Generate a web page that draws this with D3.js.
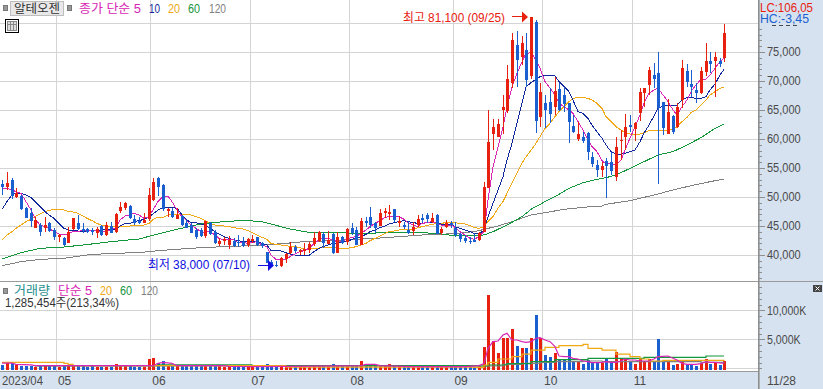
<!DOCTYPE html>
<html><head><meta charset="utf-8">
<script src="https://cdn.jsdelivr.net/npm/d3@7"></script>
<style>html,body{margin:0;padding:0;background:#fff;overflow:hidden}svg{display:block}text{font-family:"Liberation Sans","Noto Sans CJK KR",sans-serif}</style>
</head><body><svg id="c" width="823" height="389"></svg>
<script>
const opens=[52240,51670,52930,50060,50170,48160,47300,44660,45170,44710,
45580,44310,43160,42990,42130,44430,45460,44540,44430,44310,
43850,45000,43390,45060,44020,47590,48160,48450,46150,45920,
45580,46150,49480,53220,52130,47640,47640,46270,46720,45460,
45170,44310,44310,43280,45460,44020,41900,42470,41780,42410,
42300,42300,41730,42410,43050,42130,40460,38850,38280,38100,
39250,40290,41380,40580,40750,40860,41900,42410,43560,41900,
43680,40400,43050,42300,44600,44250,41720,45800,46500,45460,
45060,47190,47010,47930,45570,45170,44310,44190,45170,46320,
46900,45690,46950,43740,44880,45460,44600,43560,42930,42470,
42590,42590,44020,51500,60860,60400,65000,64880,69710,76210,
74080,75350,70860,80230,63740,66260,66440,65460,68620,67590,
66150,62300,60000,60400,60980,56840,55520,54650,56210,56090,
53510,59660,60400,62410,61780,64540,67990,69310,71030,71440,
66320,60860,63970,62010,66720,71780,69480,68450,67870,71610,
73450,73500,73450,73910];
const closes=[51780,52360,50170,50630,47870,46440,45920,46040,44020,45120,
44140,43050,43390,41730,44020,46320,44480,44080,43970,43910,
44430,43390,45170,43850,47010,48220,49020,46320,45580,45460,
46040,50350,52640,51670,47870,47870,46490,46900,45170,44710,
43850,43050,43280,45860,43620,42010,42470,42700,42590,41550,
42010,41550,42700,42760,41730,41550,38680,38300,38100,39430,
40170,41440,40750,40810,41030,41900,42870,43970,42010,42530,
40290,43100,42010,44480,43740,41780,45800,45750,45170,44710,
47240,47640,47470,46030,45920,44830,43740,44830,46210,46030,
46210,46380,43680,44430,45460,45170,43450,42760,42410,42240,
42240,43740,51780,59540,62130,62590,65570,70340,77070,73620,
76610,70170,81100,63160,68160,65000,64310,68330,65000,66040,
63000,61150,60860,59710,57820,55690,54660,55340,55350,54540,
58680,59830,62130,62070,62820,68160,68740,71890,70340,65400,
61900,64720,61270,65460,72180,69880,68970,67870,71720,73450,
72990,74190,72930,78330];
const highs=[52930,54250,53220,51500,50350,48330,48050,46610,45460,46610,
45750,44600,43620,43050,44890,46440,46900,45460,44600,44600,
44890,45170,45750,45750,47180,49200,49200,48620,46900,46500,
47180,51500,53220,53390,52240,48050,48160,48050,46900,46040,
45460,44600,44600,45860,45750,44310,42870,43160,43280,42870,
43450,43050,42870,43450,43160,42300,40580,39100,39020,39600,
40400,42240,41720,41030,42010,42300,44020,44140,43910,44200,
43740,44020,43280,44600,45460,44890,46320,46490,48220,45750,
47870,48050,48620,47930,46720,45750,45920,45750,46900,47010,
47300,47190,47010,44770,46030,45920,45750,43740,43450,43050,
43740,44020,52640,65000,63450,63450,67590,72760,78220,78620,
77760,78330,81100,80520,69600,67590,68740,70750,69600,69020,
66150,64140,63000,61260,61260,57820,56380,56090,56670,57820,
60400,61550,64310,64140,62990,68740,68740,72470,73160,74940,
66320,66840,64140,66150,73620,72930,71900,69600,72470,76490,
75060,75060,73910,79830];
const lows=[50350,51210,49600,49770,47760,46320,44890,44600,43280,44020,
44020,42590,42300,41610,42130,44310,44310,43740,43740,43450,
42870,43280,43280,43740,43850,47180,47760,46150,45170,45290,
45460,45920,49370,50170,47640,46610,46320,46150,45000,44600,
43740,42760,43050,42870,43450,41900,41550,41730,41040,41320,
41440,41320,41440,42010,41550,41150,38560,38100,38000,38000,
38560,40170,40400,40000,39940,40290,41550,42300,41150,41900,
40170,40290,41840,41720,43450,41720,41670,44770,44600,43850,
45000,46320,46030,45750,44890,44420,43620,43450,44890,45570,
45570,45570,43560,43450,44600,44710,43160,42300,42010,41900,
42180,42410,44020,51500,58100,60290,60800,64430,68740,68910,
72760,68910,70340,61090,62130,61840,62700,64140,64830,64710,
59370,60980,59710,59370,56380,55120,53500,53510,49880,53790,
52820,56380,58100,61260,59710,63160,65570,67590,68740,52180,
60690,60800,60860,61840,65290,69020,67300,66270,67760,70920,
71320,67300,72470,73330];
const volumes=[570,850,850,500,450,450,450,300,350,400,
350,350,300,350,450,350,350,350,300,350,
250,300,200,250,740,400,400,350,300,300,
300,1600,1780,850,1260,500,450,400,450,450,
450,400,350,400,450,400,350,300,250,300,
250,250,300,350,350,250,740,450,300,400,
400,400,300,300,300,300,350,400,350,350,
740,450,350,450,400,450,1260,400,450,400,
500,400,740,450,400,350,400,350,300,300,
300,350,450,300,350,300,350,300,300,250,
300,400,3720,12640,4710,2640,5280,5280,6780,3850,
3550,3550,5280,9190,5280,2290,1950,2690,1600,1600,
3330,1030,1030,740,1380,1030,1030,920,1720,1030,
2760,1600,1720,1030,800,1600,1030,1600,1030,5060,
1120,1120,570,740,1260,570,570,400,860,1600,
690,860,570,1260];
const ma5=[51500,51500,51210,50920,50630,49200,47760,46320,45170,44890,
44600,44020,43620,43620,43620,44020,44020,44310,44200,44200,
44200,44080,44140,44310,44770,46040,46730,46900,47180,46900,
46320,46610,47760,49200,50060,50170,49200,47760,46610,46040,
45170,44600,44020,43910,44020,43450,42870,42590,42700,42590,
42130,42130,42010,42130,42300,41730,41440,40000,39250,39140,
39250,39710,40170,40580,40750,41150,42010,42590,42870,42870,
42590,42300,42410,42700,43050,43160,43740,44310,44890,45460,
45920,46490,46610,46720,46610,46150,45570,45170,44890,45460,
45570,45750,45460,45170,45170,45170,44770,44020,43450,42870,
42700,43160,44020,49480,55230,58680,62130,65570,69020,71320,
73330,74770,74880,73620,72180,69890,68740,67590,66150,65570,
65000,64430,63000,61550,59830,58700,57820,56260,55690,55690,
55520,56380,58100,60120,62130,64140,66150,67870,68450,68740,
67590,66440,65000,64140,65570,66720,68160,69310,70290,70290,
71030,72180,73330,73910];
const ma10=[47870,49200,50350,50630,50630,50350,49940,49200,48330,47470,
46900,46320,45460,44600,44310,44200,44140,44020,44080,44200,
44200,44200,44430,44430,44430,45000,45460,45460,45750,45920,
46150,46610,47070,47760,48220,48220,48220,48050,46900,46150,
45580,45580,45350,45170,44600,44020,43620,43160,42870,42590,
42470,42300,42300,42300,42300,42010,41730,40750,40690,40690,
40400,40170,40000,39940,39940,39940,40580,41150,41440,41720,
42010,42010,42300,42300,42700,42870,43160,43560,44020,44310,
44710,45000,45340,45570,45750,45920,45750,45570,45460,45460,
45570,45570,45570,45340,45340,45170,44890,44600,44310,44020,
43740,43620,44310,46610,48910,51210,53510,56380,59250,62700,
66150,69020,69710,70290,70750,70980,70980,70860,69890,69020,
68160,66720,64710,64430,63560,62410,61260,60120,58970,57820,
57410,57360,57530,57820,58100,59540,60980,62410,63970,65290,
65690,65860,65860,65860,66720,67180,67180,67010,67010,67300,
68450,69480,71030,72010];
const ma20=[42590,43450,44020,44600,45170,45750,46150,46610,47070,47470,
47700,47820,47870,47760,47530,47410,47180,46730,46320,45920,
45460,45170,45000,44890,44890,44890,44890,45000,45060,45060,
45170,45460,46150,46500,46500,46900,46900,46900,46900,46900,
46900,46610,46320,45920,45460,45170,45060,45000,44890,44710,
44600,44480,44200,43850,43450,43050,42700,42010,41840,41720,
41610,41490,41440,41270,41030,40980,41150,41210,41270,41270,
41210,41210,41150,41150,41270,41440,41720,42010,42470,42870,
43280,43740,44020,44140,44310,44430,44430,44480,44710,44890,
45060,45290,45460,45460,45570,45630,45570,45460,45340,45060,
44770,44600,44890,45750,46610,48050,49200,50630,52360,54080,
55810,56950,58100,59250,60400,61840,62700,63850,64710,65570,
66440,67010,67180,67130,67010,66720,66150,65290,63850,62990,
62130,61550,61090,60860,60690,60860,61090,61440,61550,61550,
61440,61440,61670,62130,62990,63730,64540,65000,65860,66720,
67590,68160,68740,68910];
const ma60Days=[0,4,8,13,17,23,29,33,37,42,45,49,52,55,61,65,69,77,84,88,92,95,99,102,104,107,110,112,115,117,120,123,126,128,130,133,136,139,142,145,148,151,153];
const ma60=[39310,40400,41150,41380,41720,42300,42760,43620,44430,45350,45630,45860,45920,45750,44480,43910,43850,43740,43910,43850,43740,43390,43390,43450,44020,45170,46610,47880,49200,50060,51500,52470,53050,53330,53790,54940,56090,57240,57820,58970,60230,61840,62590];
const ma120Days=[0,4,8,13,18,23,29,33,37,42,47,54,60,64,70,74,79,84,89,94,98,101,102,105,108,112,115,119,123,127,128,133,138,142,146,150,153];
const ma120=[38160,38850,39250,39430,40000,40290,40400,40750,40980,41270,41440,41650,42010,42300,42470,42700,42870,43160,43450,43620,43850,44190,44430,45000,45750,46900,47300,47870,48220,48450,48740,49370,50340,51210,51950,52640,53100];
const volMa5Days=[0,2,3,6,7,32,33,34,36,37,47,48,56,60,76,77,79,80,87,98,101,102,103,104,105,106,107,108,109,110,111,112,113,114,115,116,117,118,119,120,121,122,123,124,125,126,127,128,129,130,131,132,133,134,135,136,137,138,139,140,141,142,143,144,145,146,147,148,149,150,151,152,153];
const volMa5=[900,900,680,600,450,450,850,1030,850,450,450,320,280,320,450,680,680,450,300,300,454,800,3440,4590,4710,5740,6030,4880,4880,4590,4480,4590,5170,5280,4880,4590,3730,2120,2000,2000,1720,1600,1260,1140,970,970,1030,1140,1030,1030,1260,1600,1430,1430,1260,1260,1260,1600,2000,2060,2120,1720,1430,860,690,690,690,800,1140,1030,1030,920,860];
const volMa20Days=[0,12,13,14,15,57,60,100,102,103,105,108,110,112,115,118,123,124,127,130,133,135,137,140,148,153];
const volMa20=[1030,1030,850,680,450,450,200,170,570,1030,1600,2000,2460,3150,3620,3900,4130,3440,3150,2460,2000,1600,1260,1370,1370,1260];
const volMa60Days=[7,32,33,52,53,101,102,103,107,112,117,123,124,135,136,148,149,153];
const volMa60=[450,450,600,600,450,400,400,570,800,1140,1490,1490,1720,1720,1890,1890,2120,2120];
const volMa120Days=[7,102,106,110,114,117,123,127,148,153];
const volMa120=[400,400,685,857,1030,1140,1260,1140,1030,1140];
const priceGrid=[40000,45000,50000,55000,60000,65000,70000,75000,80000];
const priceTicks=[40000,45000,50000,55000,60000,65000,70000,75000];
const priceMinor=d3.range(36000,84000,1000);
const volTicks=[5000,10000];
const volMinor=d3.range(0,15000,1000);
const monthDays=[12,32,53,74,96,115,134];
const monthLabels=["05","06","07","08","09","10","11"];
const legendPrice=["종가 단순 5","10","20","60","120"];
const legendVolume=["단순 5","20","60","120"];

const RED="#e8200f",BLUE="#1a5fcf",MAG="#d825b5",NAVY="#10289c",ORG="#f0a814",GRN="#14963c",GRY="#808080",GRID="#d4d4d4",PANEL="#d6e2f0",INK="#4a4a4a";
const svg=d3.select("#c");
const W=823,H=389,AX=758,PANE=281,BOT=371;
const N=closes.length,STEP=4.72;
const x=d3.scaleBand().domain(d3.range(N)).range([-0.06,-0.06+STEP*N]).padding(0);
const cx=i=>Math.round(x(i)+STEP/2);
const y=d3.scaleLinear().domain([40000,80000]).range([255,23]);
const yv=d3.scaleLinear().domain([0,10000]).range([368.3,310.3]);

// panels
svg.append("rect").attr("x",AX).attr("y",0).attr("width",W-AX).attr("height",H).attr("fill",PANEL);
svg.append("rect").attr("x",0).attr("y",BOT).attr("width",AX).attr("height",H-BOT).attr("fill",PANEL);

// grid
const grid=svg.append("g").attr("shape-rendering","crispEdges").attr("stroke",GRID);
grid.selectAll(".h").data(priceGrid).join("line").attr("class","h").attr("x1",0).attr("x2",AX).attr("y1",d=>Math.floor(y(d))+.5).attr("y2",d=>Math.floor(y(d))+.5);
grid.selectAll(".vg").data([0,5000,10000]).join("line").attr("class","vg").attr("x1",0).attr("x2",AX).attr("y1",d=>Math.floor(yv(d))+.5).attr("y2",d=>Math.floor(yv(d))+.5);
grid.selectAll(".mg").data(monthDays).join("line").attr("class","mg").attr("x1",d=>Math.floor(x(d))+.5).attr("x2",d=>Math.floor(x(d))+.5).attr("y1",0).attr("y2",BOT);

// price moving averages
const pl=(pts,yy)=>d3.line().x(d=>cx(d[0])).y(d=>yy(d[1]))(pts);
const perDay=a=>a.map((v,i)=>[i,v]);
const zipped=(d,a)=>d.map((v,i)=>[v,a[i]]);
[[zipped(ma120Days,ma120),GRY],[zipped(ma60Days,ma60),GRN],[perDay(ma20),ORG],[perDay(ma10),NAVY],[perDay(ma5),MAG]].forEach(([p,c])=>{
  svg.append("path").attr("d",pl(p,y)).attr("fill","none").attr("stroke",c).attr("stroke-width",1).attr("shape-rendering","crispEdges");
});

// candles
const up=i=>closes[i]>=opens[i];
const cg=svg.append("g").attr("shape-rendering","crispEdges");
const days=d3.range(N);
cg.selectAll(".w").data(days).join("rect").attr("class","w").attr("x",cx).attr("width",1).attr("y",i=>y(highs[i])).attr("height",i=>y(lows[i])-y(highs[i])).attr("fill",i=>up(i)?RED:BLUE);
cg.selectAll(".b").data(days).join("rect").attr("class","b").attr("x",i=>cx(i)-1).attr("width",3)
  .attr("y",i=>y(Math.max(opens[i],closes[i]))).attr("height",i=>Math.max(1.5,Math.abs(y(opens[i])-y(closes[i])))).attr("fill",i=>up(i)?RED:BLUE);

// volume
const vg=svg.append("g").attr("shape-rendering","crispEdges");
vg.selectAll("rect").data(days).join("rect").attr("x",i=>cx(i)-1).attr("width",3).attr("y",i=>yv(volumes[i])).attr("height",i=>BOT-1-yv(volumes[i])).attr("fill",i=>up(i)?RED:BLUE);
[[zipped(volMa120Days,volMa120),GRY,d3.curveStepAfter],[zipped(volMa60Days,volMa60),GRN,d3.curveStepAfter],[zipped(volMa20Days,volMa20),ORG,d3.curveStepAfter],[zipped(volMa5Days,volMa5),MAG,d3.curveLinear]].forEach(([p,c,k])=>{
  svg.append("path").attr("d",d3.line().curve(k).x(d=>cx(d[0])).y(d=>yv(d[1]))(p)).attr("fill","none").attr("stroke",c).attr("stroke-width",1.2);
});

// separators
svg.append("rect").attr("x",0).attr("y",PANE).attr("width",W).attr("height",1).attr("fill","#9a9a9a");
svg.append("rect").attr("x",0).attr("y",BOT).attr("width",AX).attr("height",1).attr("fill","#9a9a9a");
svg.append("rect").attr("x",AX).attr("y",0).attr("width",1.6).attr("height",H).attr("fill","#8e8e8e");

// right axes
const styleAxis=(g,fmt)=>{g.select(".domain").remove();g.selectAll("line").attr("stroke","#8e8e8e").attr("shape-rendering","crispEdges");
  g.selectAll("text").attr("fill",INK).attr("font-size",12).attr("textLength",d=>String(fmt(d)).length*5.6).attr("lengthAdjust","spacingAndGlyphs");};
const fp=d3.format(",");
const fv=d=>fp(d)+"K";
const minorAxis=svg.append("g").attr("transform",`translate(${AX+1},0)`).call(d3.axisRight(y).tickValues(priceMinor.filter(d=>y(d)>26&&y(d)<281)).tickSize(3).tickFormat(""));
minorAxis.select(".domain").remove();minorAxis.selectAll("line").attr("stroke","#8e8e8e").attr("shape-rendering","crispEdges");
const pa=svg.append("g").attr("transform",`translate(${AX+1},0)`).call(d3.axisRight(y).tickValues(priceTicks).tickSize(6).tickPadding(2).tickFormat(fp));
styleAxis(pa,fp);
const mv=svg.append("g").attr("transform",`translate(${AX+1},0)`).call(d3.axisRight(yv).tickValues(volMinor.filter(d=>yv(d)>284)).tickSize(3).tickFormat(""));
mv.select(".domain").remove();mv.selectAll("line").attr("stroke","#8e8e8e").attr("shape-rendering","crispEdges");
const va=svg.append("g").attr("transform",`translate(${AX+1},0)`).call(d3.axisRight(yv).tickValues(volTicks).tickSize(6).tickPadding(2).tickFormat(fv));
styleAxis(va,fv);

// clipped remains of the topmost axis label, under the header
svg.append("line").attr("x1",772).attr("x2",800).attr("y1",25.5).attr("y2",25.5).attr("stroke",INK).attr("stroke-dasharray","4 3");

const T=(s,px,py,fill,size,len)=>{const t=svg.append("text").attr("x",px).attr("y",py).attr("fill",fill).attr("font-size",size).attr("dominant-baseline","central").text(s);
  if(len)t.attr("textLength",len).attr("lengthAdjust","spacingAndGlyphs");return t;};
T("LC:106,05",760,7,"#e8200f",13,53);
T("HC:-3,45",760,18.5,"#1a5fcf",13,49);

// time axis
const ta=svg.append("g").attr("transform",`translate(0,${BOT+1})`).call(d3.axisBottom(x).tickValues(monthDays).tickSize(0).tickFormat((d,i)=>monthLabels[i]));
ta.select(".domain").remove();
ta.selectAll("text").attr("fill",INK).attr("font-size",12).attr("text-anchor","start").attr("dx",-1).attr("y",3).attr("dy","0.8em");
T("2023/04",2,380.5,INK,12,41);
T("11/28",767,380.5,INK,12,29);

// header
svg.append("rect").attr("x",10.5).attr("y",1.5).attr("width",53).attr("height",14).attr("fill","#e8e8e8").attr("stroke","#bdbdbd");
[3,67].forEach(a=>svg.append("rect").attr("x",a+.5).attr("y",5.5).attr("width",4).attr("height",5).attr("fill","#999").attr("stroke","#777"));
T("알테오젠",14,8.5,"#333",12.5,46);
T(legendPrice[0],79,8.5,MAG,12.5,62);
T(legendPrice[1],149,8.5,NAVY,12.5,11);
T(legendPrice[2],168,8.5,ORG,12.5,12);
T(legendPrice[3],188,8.5,GRN,12.5,12);
T(legendPrice[4],209,8.5,GRY,12.5,17);
// table icon
svg.append("rect").attr("x",5.5).attr("y",19.5).attr("width",13).attr("height",13).attr("fill","#fff").attr("stroke","#000");
svg.append("rect").attr("x",7.5).attr("y",21.5).attr("width",9).attr("height",9).attr("fill","#ddd").attr("stroke","#888");
[10.5,13.5].forEach(a=>svg.append("line").attr("x1",a).attr("x2",a).attr("y1",21.5).attr("y2",30.5).attr("stroke","#888"));
svg.append("line").attr("x1",7.5).attr("x2",16.5).attr("y1",24.5).attr("y2",24.5).attr("stroke","#888");

// annotations
const hiI=d3.maxIndex(highs),loI=d3.minIndex(lows);
T("최고 81,100 (09/25)",cx(hiI)-128,y(highs[hiI])+1,RED,12.5,102);
svg.append("line").attr("x1",cx(hiI)-19).attr("x2",cx(hiI)-8).attr("y1",Math.floor(y(highs[hiI]))+.5).attr("y2",Math.floor(y(highs[hiI]))+.5).attr("stroke",RED).attr("stroke-width",1);
svg.append("path").attr("d",d3.line()([[cx(hiI)-9,y(highs[hiI])-5],[cx(hiI)-3,y(highs[hiI])+.5],[cx(hiI)-9,y(highs[hiI])+6]])).attr("fill",RED);
const ly=Math.floor(y(lows[loI]))-1;
T("최저 38,000 (07/10)",148,ly,"#1010e0",12.5,102);
svg.append("line").attr("x1",cx(loI)-18).attr("x2",cx(loI)-6).attr("y1",ly+.5).attr("y2",ly+.5).attr("stroke","#1010e0");
svg.append("path").attr("d",d3.line()([[cx(loI)-8,ly-5],[cx(loI)-2,ly+.5],[cx(loI)-8,ly+6]])).attr("fill","#1010e0");

// volume legend
svg.append("rect").attr("x",3.5).attr("y",288.5).attr("width",4).attr("height",5).attr("fill","#999").attr("stroke","#777");
T("거래량",14,290.5,"#2a9090",12.5,36);
T(legendVolume[0],58,290.5,MAG,12.5,34);
T(legendVolume[1],100,290.5,ORG,12.5,12);
T(legendVolume[2],120,290.5,GRN,12.5,12);
T(legendVolume[3],141,290.5,GRY,12.5,17);
T("1,285,454주(213,34%)",5,303,"#333",12.5,114);
// expand icon
svg.append("rect").attr("x",813).attr("y",285).attr("width",9).attr("height",7).attr("fill","#444");
svg.append("path").attr("d","M815.5 286.5l4 4M819.5 286.5l-4 4").attr("stroke","#fff").attr("stroke-width",1);
</script></body></html>
